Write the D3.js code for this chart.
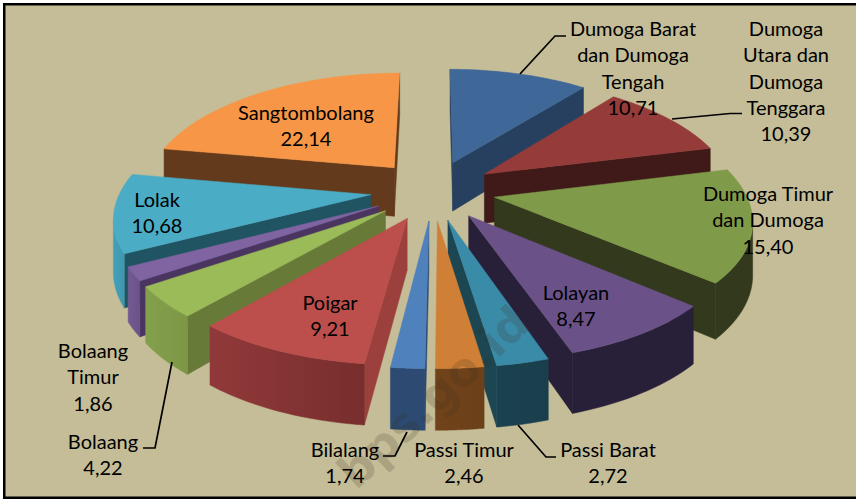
<!DOCTYPE html>
<html><head><meta charset="utf-8">
<script src="https://cdn.jsdelivr.net/npm/d3@7"></script>
<style>html,body{margin:0;padding:0;background:#fff}svg{display:block}</style>
</head><body><div id="chart"></div>
<script>
// ---- data ----
const categories = ["Dumoga Barat dan Dumoga Tengah","Dumoga Utara dan Dumoga Tenggara","Dumoga Timur dan Dumoga","Lolayan","Passi Barat","Passi Timur","Bilalang","Poigar","Bolaang","Bolaang Timur","Lolak","Sangtombolang"];
const values = [10.71,10.39,15.40,8.47,2.72,2.46,1.74,9.21,4.22,1.86,10.68,22.14];
const valueLabels = ["10,71","10,39","15,40","8,47","2,72","2,46","1,74","9,21","4,22","1,86","10,68","22,14"];
const topColors  = ["#3f6797","#953c3a","#7f9a48","#6a5288","#3a8ba8","#d08036","#4f81bd","#bc4e4b","#9bbb59","#8064a2","#4bacc6","#f79646"];
const sideColors = ["#27405f","#3f1a18","#33391c","#281f38","#1b4652","#70431a","#2c4a72","#9b403d","#677a38","#4a3560","#215463","#633a1b"];
const wallColors = ["#27405f","#3f1a18","#33391c","#281f38","#1a4250","#70431a","#2c4a72","#91393a","#84a04c","#735a92","#43a0b8","#c87a3a"];
const wallEnds   = ["#27405f","#3f1a18","#33391c","#281f38","#1a3f4c","#6c4019","#2c4a72","#772e2d","#7c9646","#6b5389","#3f97ae","#c87a3a"];

// label layout
const labelLines = [
 ["Dumoga Barat","dan Dumoga","Tengah"],["Dumoga","Utara dan","Dumoga","Tenggara"],["Dumoga Timur","dan Dumoga"],
 ["Lolayan"],["Passi Barat"],["Passi Timur"],["Bilalang"],["Poigar"],["Bolaang"],["Bolaang","Timur"],["Lolak"],["Sangtombolang"]];
const labelX = [633,786,768,576,608,464,345,330,103,93,157,306];
const labelY = [36,36,201,300,457,457,457,310,449,358,207,120];
const leaders = [
 [[520,74],[555,36],[566,36]],
 [[672,119],[730,113.5],[742,113.5]],
 [[518,425],[546,457],[556,457]],
 [[407,432],[395,456],[383,456]],
 [[172,362],[155,448],[143,448]]
];

// ---- projection of the tilted, exploded pie ----
const W=856,H=499;
const R=250, B=115, perspX=0.168, perspY=0.15, explodeX=0.25, explodeZ=0.26, depth=50, cx=433, cy=190;
const sx=d3.scaleLinear().domain([-1,1]).range([cx-R,cx+R]);
const sy=d3.scaleLinear().domain([-1,1]).range([cy+B,cy-B]);
function project(X,Z,drop){
  const wx=1+perspX*Z, wy=1+perspY*Z;
  return [sx(X/wx), sy(Z/wy)+(drop?depth/wy:0)];
}
const arcs=d3.pie().sort(null).value(d=>d).startAngle(0).endAngle(2*Math.PI)(values);
const slices=arcs.map((a,i)=>{
  const mid=(a.startAngle+a.endAngle)/2;
  const ox=explodeX*Math.sin(mid), oz=explodeZ*Math.cos(mid);
  const ts=d3.range(0,25).map(k=>a.startAngle+(a.endAngle-a.startAngle)*k/24);
  const rim=ts.map(t=>[ox+Math.sin(t),oz+Math.cos(t)]);
  return {i,mid,ox,oz,rim,z:oz+0.55*Math.cos(mid)};
});
const svg=d3.select("#chart").append("svg").attr("width",W).attr("height",H);
const defs=svg.append("defs");
values.forEach((v,i)=>{
  const g=defs.append("linearGradient").attr("id","w"+i);
  g.append("stop").attr("offset","0%").attr("stop-color",wallColors[i]);
  g.append("stop").attr("offset","100%").attr("stop-color",wallEnds[i]);
});
svg.append("rect").attr("x",4).attr("y",4).attr("width",W-4).attr("height",H-5).attr("fill","#c4bd97");
const line=d3.line();
const area=p=>{let s=0;p.forEach((a,i)=>{const b=p[(i+1)%p.length];s+=a[0]*b[1]-b[0]*a[1];});return s;};
const pie=svg.append("g");
function face(pts,fill,g){
  g.append("path").attr("d",line(pts)+"Z").attr("fill",fill).attr("stroke",fill).attr("stroke-width",0.5).attr("stroke-linejoin","round");
}
slices.slice().sort((a,b)=>b.z-a.z).forEach(s=>{
  const g=pie.append("g");
  const apex=[s.ox,s.oz];
  const first=s.rim[0], last=s.rim[s.rim.length-1];
  const up=p=>project(p[0],p[1],false), down=p=>project(p[0],p[1],true);
  const quad=(p,q)=>[up(p),up(q),down(q),down(p)];
  const f1=quad(apex,first), f2=quad(last,apex);
  if(area(f1)<0) face(f1,sideColors[s.i],g);
  if(area(f2)<0) face(f2,sideColors[s.i],g);
  // curved outer wall: one polygon over the rim segments that face the viewer
  const vis=s.rim.filter((p,k)=>{
    const a=s.rim[Math.max(k-1,0)], b=s.rim[Math.min(k+1,s.rim.length-1)];
    return area(quad(a,b))<0;
  });
  if(vis.length>1) face(vis.map(up).concat(vis.slice().reverse().map(down)),"url(#w"+s.i+")",g);
  face([apex].concat(s.rim).map(up),topColors[s.i],g);
});

// watermark
svg.append("text")
  .attr("transform","translate(356,491) rotate(-43)")
  .attr("font-family","'DejaVu Sans',sans-serif").attr("font-weight","bold").attr("font-size",46)
  .attr("fill","#3a3020").attr("fill-opacity",0.19).text("bps.go.id");

// leaders
svg.append("g").selectAll("path").data(leaders).join("path")
  .attr("d",d=>line(d)).attr("fill","none").attr("stroke","#000").attr("stroke-width",1.7);

// labels
const lh=26.3;
const labs=svg.append("g").attr("font-family","Lato,sans-serif").attr("font-size",20).attr("fill","#000").attr("text-anchor","middle");
categories.forEach((c,i)=>{
  labelLines[i].concat([valueLabels[i]]).forEach((t,j)=>{
    labs.append("text").attr("x",labelX[i]).attr("y",labelY[i]+j*lh).text(t);
  });
});

// frame
const frame=svg.append("g").attr("fill","#000");
frame.append("rect").attr("x",3).attr("y",3).attr("width",W-3).attr("height",2.5);
frame.append("rect").attr("x",3).attr("y",3).attr("width",2.5).attr("height",H-3);
frame.append("rect").attr("x",3).attr("y",H-2.5).attr("width",W-3).attr("height",2.5);
</script></body></html>
